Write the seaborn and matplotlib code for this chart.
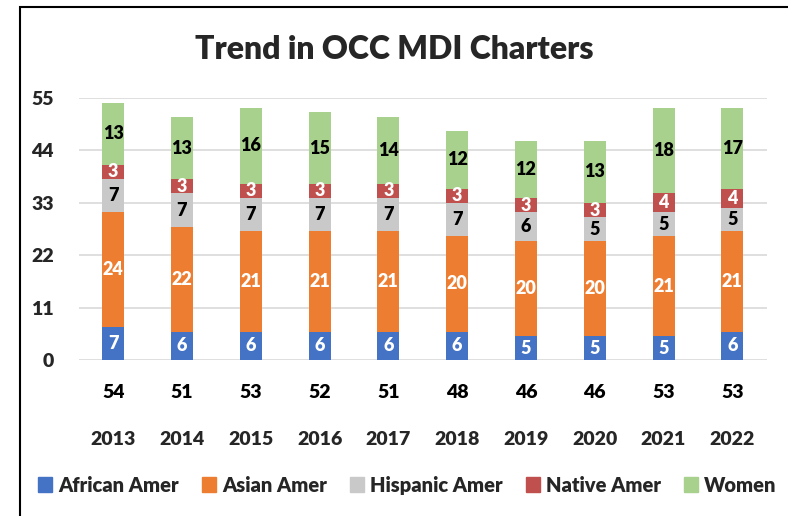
import pandas as pd
import numpy as np
import seaborn as sns
import matplotlib.pyplot as plt
from matplotlib.patches import Rectangle
from matplotlib.font_manager import FontProperties

years = ["2013", "2014", "2015", "2016", "2017", "2018", "2019", "2020", "2021", "2022"]
african = [7, 6, 6, 6, 6, 6, 5, 5, 5, 6]
asian = [24, 22, 21, 21, 21, 20, 20, 20, 21, 21]
hispanic = [7, 7, 7, 7, 7, 7, 6, 5, 5, 5]
native = [3, 3, 3, 3, 3, 3, 3, 3, 4, 4]
women = [13, 13, 16, 15, 14, 12, 12, 13, 18, 17]

series = ["African Amer", "Asian Amer", "Hispanic Amer", "Native Amer", "Women"]
colors = ["#4472C4", "#ED7D31", "#C9C9C9", "#C0504D", "#A9D18E"]
lbl_colors = ["white", "white", "black", "white", "black"]

sns.set_style("white")
plt.rcParams["font.family"] = ["Lato", "DejaVu Sans"]
W = "heavy"
plt.rcParams["font.weight"] = W

df = pd.DataFrame({"year": years, "African Amer": african, "Asian Amer": asian,
                   "Hispanic Amer": hispanic, "Native Amer": native, "Women": women})
cum = df[series].cumsum(axis=1)

fig = plt.figure(figsize=(7.88, 5.16), dpi=100)
ax = fig.add_axes([0.1, 0.302, 0.873, 0.508])

# tallest first so the lower segments sit on top of it
for s, c in reversed(list(zip(series, colors))):
    sns.barplot(x=df["year"], y=cum[s], color=c, width=0.32, ax=ax,
                linewidth=0, saturation=1, zorder=2)

for j, s in enumerate(series):
    base = cum[s] - df[s]
    for i in range(len(years)):
        ax.text(i, base[i] + df[s][i] / 2, str(df[s][i]), ha="center", va="center",
                color=lbl_colors[j], fontsize=13, fontweight=W, zorder=3)

totals = cum["Women"]
fp = FontProperties(family="Lato", weight="heavy", size=14)
for i in range(len(years)):
    ax.text(i, -0.122, str(totals[i]), transform=ax.get_xaxis_transform(),
            ha="center", va="center", fontproperties=fp, color="black")

ax.set_ylim(0, 55)
ax.set_yticks([0, 11, 22, 33, 44, 55])
ax.yaxis.grid(True, color="#D9D9D9", linewidth=1.2, zorder=0)
ax.set_axisbelow(True)
ax.set_xlabel("")
ax.set_ylabel("")
sns.despine(ax=ax, left=True, bottom=True)
ax.tick_params(axis="both", length=0, labelsize=14)
ax.tick_params(axis="x", pad=51)
ax.tick_params(axis="y", pad=18)
for t in ax.get_xticklabels() + ax.get_yticklabels():
    t.set_fontweight(W)

fig.text(0.5, 0.905, "Trend in OCC MDI Charters", ha="center", va="center",
         fontsize=23, fontweight=W)

handles = [Rectangle((0, 0), 1, 1, color=c) for c in colors]
fig.legend(handles, series, loc="center", bbox_to_anchor=(0.517, 0.06), ncol=5,
           frameon=False, handlelength=0.7, handleheight=0.7, handletextpad=0.3,
           columnspacing=1.15, prop={"size": 14.5, "weight": W})

fig.patches.append(Rectangle((0.025, -0.1), 1.2, 1.086, transform=fig.transFigure,
                             fill=False, edgecolor="black", linewidth=1.5))

fig.savefig("out.png", dpi=100)
